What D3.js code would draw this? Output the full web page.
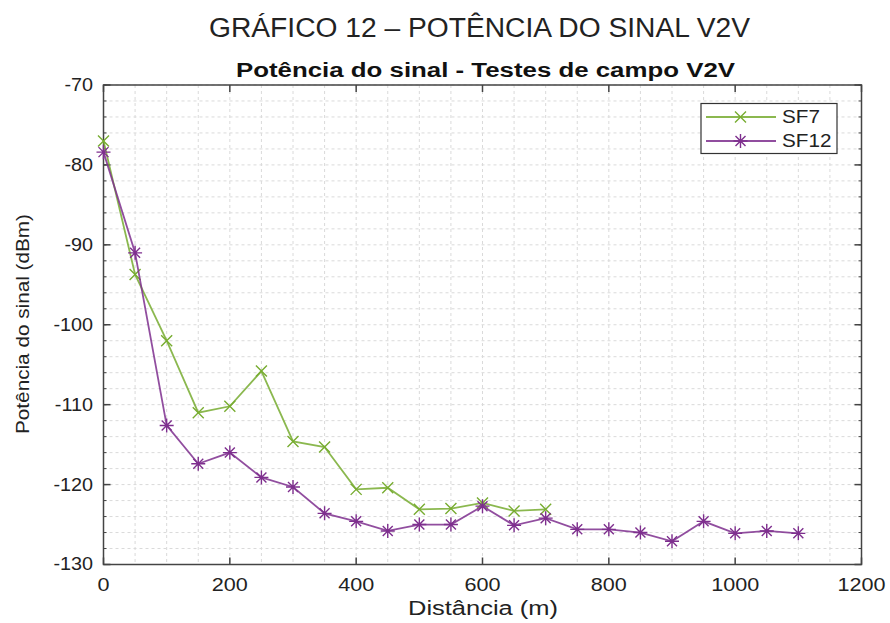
<!DOCTYPE html>
<html><head><meta charset="utf-8">
<script src="https://cdn.jsdelivr.net/npm/d3@7"></script>
<style>body{margin:0;background:#fff;} svg{display:block;font-family:"Liberation Sans",Arial,sans-serif;}</style>
</head><body>
<svg id="c" width="890" height="623"></svg>
<script>
const sf7X = [0,50,100,150,200,250,300,350,400,450,500,550,600,650,700];
const sf7Y = [-77.0,-93.7,-102.0,-111.0,-110.2,-105.8,-114.6,-115.3,-120.6,-120.4,-123.1,-123.0,-122.3,-123.3,-123.1];
const sf12X = [0,50,100,150,200,250,300,350,400,450,500,550,600,650,700,750,800,850,900,950,1000,1050,1100];
const sf12Y = [-78.4,-91.0,-112.6,-117.4,-116.0,-119.1,-120.3,-123.6,-124.6,-125.8,-125.0,-125.0,-122.7,-125.1,-124.2,-125.6,-125.6,-126.0,-127.1,-124.6,-126.1,-125.8,-126.1];
const xTicks = [0,200,400,600,800,1000,1200];
const yTicks = [-70,-80,-90,-100,-110,-120,-130];
const seriesNames = ["SF7","SF12"];
const seriesColors = ["#77ac30","#7e2f8e"];

const svg = d3.select("#c");
const L=103.5, R=861.5, T=85, B=564.5;
const x = d3.scaleLinear().domain([0,1200]).range([L,R]);
const y = d3.scaleLinear().domain([-130,-70]).range([B,T]);

// titles
svg.append("text").attr("x",479.5).attr("y",37).attr("text-anchor","middle")
  .attr("font-size",27).attr("fill","#222").attr("textLength",541).attr("lengthAdjust","spacingAndGlyphs")
  .text("GRÁFICO 12 – POTÊNCIA DO SINAL V2V");
svg.append("text").attr("x",485.5).attr("y",77).attr("text-anchor","middle")
  .attr("font-size",20).attr("font-weight","bold").attr("fill","#111").attr("textLength",499).attr("lengthAdjust","spacingAndGlyphs")
  .text("Potência do sinal - Testes de campo V2V");

// grid
const g = svg.append("g");
const minorX = d3.range(0,1201,50), minorY = d3.range(-130,-69,2);
g.selectAll(".gx").data(minorX).join("line").attr("x1",d=>x(d)).attr("x2",d=>x(d)).attr("y1",T).attr("y2",B)
  .attr("stroke","#dadada").attr("stroke-width",1).attr("stroke-dasharray","3,3");
g.selectAll(".gy").data(minorY).join("line").attr("y1",d=>y(d)).attr("y2",d=>y(d)).attr("x1",L).attr("x2",R)
  .attr("stroke","#dadada").attr("stroke-width",1).attr("stroke-dasharray","3,3");

// axes
const ax = svg.append("g").attr("stroke","#444").attr("stroke-width",1.5);
ax.append("rect").attr("x",L).attr("y",T).attr("width",R-L).attr("height",B-T).attr("fill","none");
xTicks.forEach(t=>{
  ax.append("line").attr("x1",x(t)).attr("x2",x(t)).attr("y1",B).attr("y2",B-7);
  ax.append("line").attr("x1",x(t)).attr("x2",x(t)).attr("y1",T).attr("y2",T+7);
});
yTicks.forEach(t=>{
  ax.append("line").attr("y1",y(t)).attr("y2",y(t)).attr("x1",L).attr("x2",L+7);
  ax.append("line").attr("y1",y(t)).attr("y2",y(t)).attr("x1",R).attr("x2",R-7);
});
minorY.forEach(t=>{
  ax.append("line").attr("y1",y(t)).attr("y2",y(t)).attr("x1",L).attr("x2",L+3).attr("stroke-width",1);
  ax.append("line").attr("y1",y(t)).attr("y2",y(t)).attr("x1",R).attr("x2",R-3).attr("stroke-width",1);
});
svg.selectAll(".xt").data(xTicks).join("text").attr("x",d=>x(d)).attr("y",591).attr("text-anchor","middle")
  .attr("font-size",18).attr("fill","#222").text(d=>d).attr("transform",d=>`translate(${x(d)},0) scale(1.2,1) translate(${-x(d)},0)`);
svg.selectAll(".yt").data(yTicks).join("text").attr("x",93).attr("y",d=>y(d)+6).attr("text-anchor","end")
  .attr("font-size",18).attr("fill","#222").text(d=>d).attr("transform",`translate(93,0) scale(1.1,1) translate(-93,0)`);
svg.append("text").attr("x",483).attr("y",615).attr("text-anchor","middle").attr("font-size",20).attr("fill","#222")
  .attr("textLength",150).attr("lengthAdjust","spacingAndGlyphs").text("Distância (m)");
svg.append("text").attr("transform","translate(29,324) rotate(-90)").attr("text-anchor","middle").attr("font-size",19).attr("fill","#222")
  .attr("textLength",220).attr("lengthAdjust","spacingAndGlyphs").text("Potência do sinal (dBm)");

// markers
function xMark(sel,cx,cy,c){const s=5.5;
  sel.append("path").attr("d",`M${cx-s},${cy-s}L${cx+s},${cy+s}M${cx-s},${cy+s}L${cx+s},${cy-s}`).attr("stroke",c).attr("stroke-width",1.4).attr("fill","none");}
function starMark(sel,cx,cy,c){const s=7,d=5;
  sel.append("path").attr("d",`M${cx-s},${cy}L${cx+s},${cy}M${cx},${cy-s}L${cx},${cy+s}M${cx-d},${cy-d}L${cx+d},${cy+d}M${cx-d},${cy+d}L${cx+d},${cy-d}`)
    .attr("stroke",c).attr("stroke-width",1.4).attr("fill","none");}

const line = d3.line().x(d=>x(d[0])).y(d=>y(d[1]));
const d7 = sf7X.map((v,i)=>[v,sf7Y[i]]), d12 = sf12X.map((v,i)=>[v,sf12Y[i]]);
const pg = svg.append("g");
pg.append("path").datum(d7).attr("d",line).attr("fill","none").attr("stroke",seriesColors[0]).attr("stroke-width",1.8).attr("stroke-opacity",0.85);
d7.forEach(p=>xMark(pg,x(p[0]),y(p[1]),seriesColors[0]));
pg.append("path").datum(d12).attr("d",line).attr("fill","none").attr("stroke",seriesColors[1]).attr("stroke-width",1.8).attr("stroke-opacity",0.85);
d12.forEach(p=>starMark(pg,x(p[0]),y(p[1]),seriesColors[1]));

// legend
const lg = svg.append("g");
lg.append("rect").attr("x",701).attr("y",103.5).attr("width",136).attr("height",50).attr("fill","#fff").attr("stroke","#333").attr("stroke-width",1.2);
seriesNames.forEach((n,i)=>{
  const yy = 117+i*24;
  lg.append("line").attr("x1",706).attr("x2",776).attr("y1",yy).attr("y2",yy).attr("stroke",seriesColors[i]).attr("stroke-width",1.8).attr("stroke-opacity",0.85);
  if(i===0) xMark(lg,740.5,yy,seriesColors[i]); else starMark(lg,740.5,yy,seriesColors[i]);
  lg.append("text").attr("x",782).attr("y",yy+6).attr("font-size",18).attr("fill","#222").text(n)
    .attr("transform",`translate(782,0) scale(1.15,1) translate(-782,0)`);
});
</script>
</body></html>
